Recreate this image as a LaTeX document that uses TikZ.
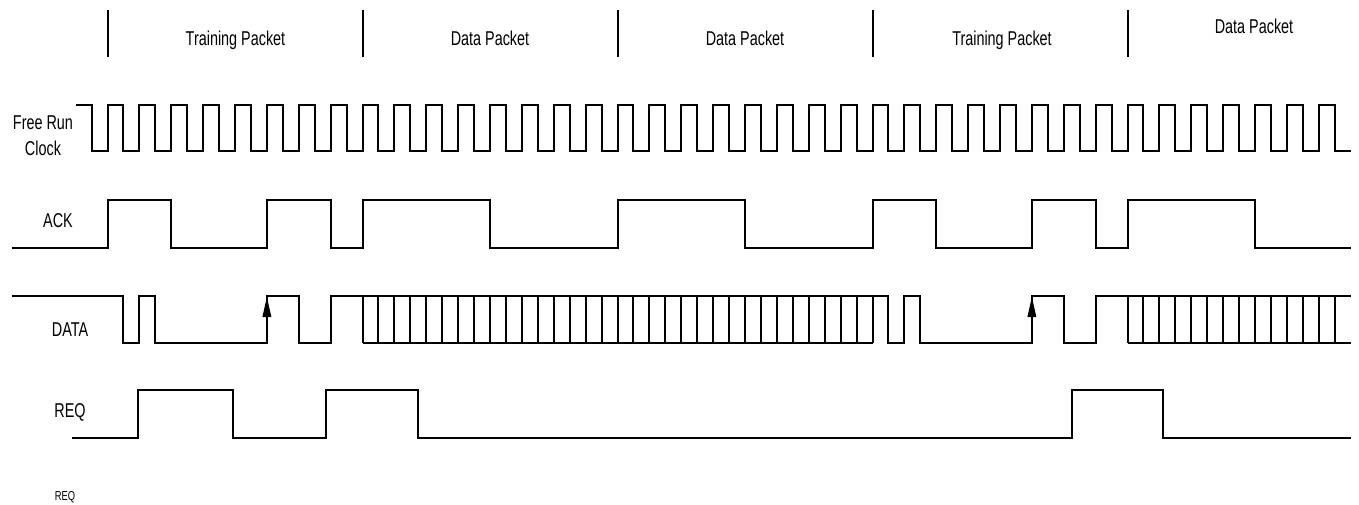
\documentclass[tikz,border=0pt]{standalone}
\usepackage{fontspec}
\setmainfont{Liberation Sans}[FakeStretch=0.72]
\begin{document}
\begin{tikzpicture}[x=1pt,y=-1pt,
  sig/.style={line width=2pt, line join=miter},
  sep/.style={line width=2pt},
  lbl/.style={inner sep=0pt, anchor=base, font=\fontsize{20}{24}\selectfont},
  slbl/.style={inner sep=0pt, anchor=base, font=\fontsize{13}{15}\selectfont},
  tip/.style={fill=black}]
\useasboundingbox (0,0) rectangle (1359,504);
% signal labels
\node[lbl] (lfree) at (43,129) {Free Run};
\node[lbl] (lclock) at (43,155) {Clock};
\node[lbl] (lack) at (58,227) {ACK};
\node[lbl] (ldata) at (70,336) {DATA};
\node[lbl] (lreq) at (70,417) {REQ};
\node[slbl] (lreq2) at (65,500) {REQ};
% packet labels
\node[lbl] (p1) at (235.5,45) {Training Packet};
\node[lbl] (p2) at (490,45) {Data Packet};
\node[lbl] (p3) at (745,45) {Data Packet};
\node[lbl] (p4) at (1002,45) {Training Packet};
\node[lbl] (p5) at (1254,33) {Data Packet};
% REQ (not aligned to clock)
\draw[sig] (72,438) -| (138,390) -| (233,438) -| (326,390) -| (418,438) -| (1072,390) -| (1163,438) -- (1351,438);
\begin{scope}[shift={(107.5,0)}, x=31.875pt]
  % packet separators
  \foreach \k in {0,8,16,24,32} \draw[sep] (\k,10) -- (\k,57);
  % clock
  \draw[sig] (-1,105) \foreach \k in {-1,...,37}{ -- (\k+0.5,105) -- (\k+0.5,151) -- (\k+1,151) -- (\k+1,105)} -- (38.5,105) -- (38.5,151) -- (39,151);
  % ACK
  \draw[sig] (-3,248) -| (0,200) -| (2,248) -| (5,200) -| (7,248) -| (8,200) -| (12,248) -| (16,200) -| (20,248) -| (24,200) -| (26,248) -| (29,200) -| (31,248) -| (32,200) -| (36,248) -- (39,248);
  % DATA
  \draw[sig] (-3,296) -| (0.5,343) -| (1,296) -| (1.5,343) -| (5,296) -| (6,343) -| (7,296) -- (8,296);
  \draw[sig] (8,296) -- (24,296) -| (24.5,343) -| (25,296) -| (25.5,343) -| (29,296) -| (30,343) -| (31,296) -- (39,296);
  \draw[sig] (8,343) -- (24,343);
  \draw[sig] (32,343) -- (39,343);
  \foreach \k in {8,8.5,...,24} \draw[sig] (\k,296) -- (\k,343);
  \foreach \k in {32,32.5,...,38.5} \draw[sig] (\k,296) -- (\k,343);
  % rising-edge arrows
  \fill[tip] (5,297) -- ++(-4.5pt,-20pt) -- ++(9pt,0pt) -- cycle;
  \fill[tip] (29,297) -- ++(-4.5pt,-20pt) -- ++(9pt,0pt) -- cycle;
\end{scope}
\end{tikzpicture}
\end{document}
